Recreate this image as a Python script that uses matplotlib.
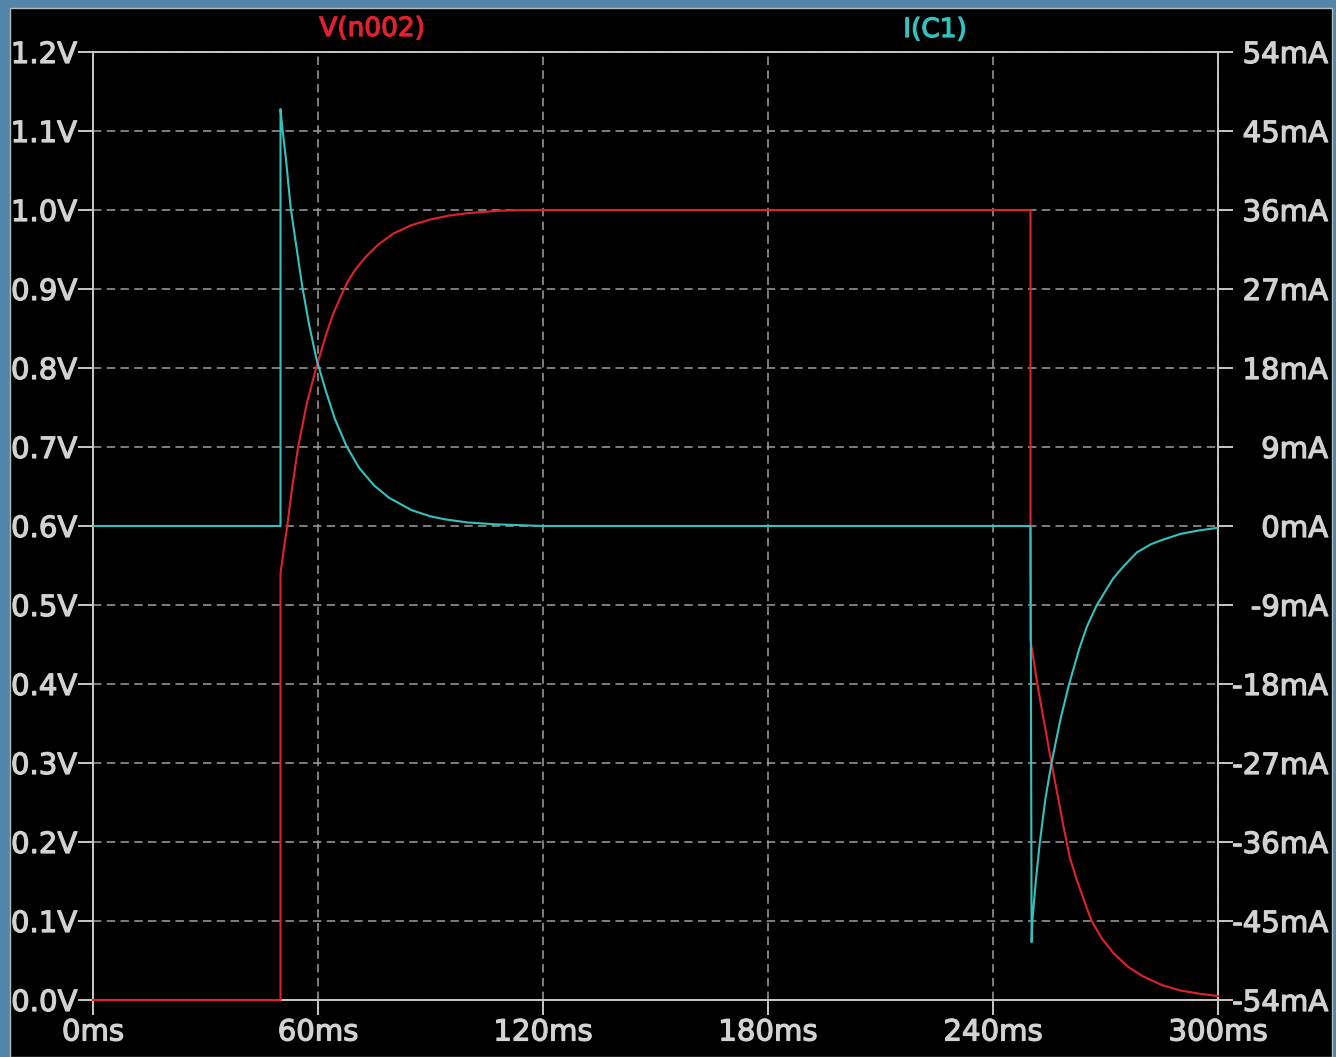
#!/usr/bin/env python3
"""Recreate the LTspice transient plot: V(n002) and I(C1) for an RC step."""

import matplotlib
matplotlib.use("Agg")
import matplotlib.pyplot as plt
import matplotlib.patheffects as pe
from matplotlib.patches import Rectangle

# ---------------------------------------------------------------------------
# Data
# ---------------------------------------------------------------------------

# V(n002) in volts vs time in ms
V_TIME = [0, 50, 50, 51, 51.8, 53, 54.7, 57, 59.5, 62, 64, 66, 68, 70, 73, 76, 80,
          85, 90, 95, 100, 108, 115, 250, 250, 251, 252, 253.5, 255.6, 257, 258.7,
          260.5, 262.5, 264.5, 266.3, 269, 272, 276, 280, 285, 290, 295, 300]
V_VOLTS = [0.0, 0.0, 0.54, 0.575, 0.60, 0.645, 0.70, 0.755, 0.80, 0.84, 0.868,
           0.89, 0.91, 0.925, 0.942, 0.956, 0.97, 0.981, 0.988, 0.993, 0.996,
           0.999, 1.0, 1.0, 0.456, 0.425, 0.395, 0.355, 0.30, 0.265, 0.222, 0.18,
           0.15, 0.123, 0.10, 0.078, 0.06, 0.042, 0.03, 0.019, 0.012, 0.008, 0.005]

# I(C1) in mA vs time in ms
I_TIME = [0, 50, 50, 50.5, 51.5, 52.7, 54, 55.8, 57.6, 59.6, 62, 64.5, 67.6, 71, 75,
          79, 85, 90, 94, 100, 107, 120, 250, 250.3, 250.5, 251.4, 252.5, 254,
          255.6, 258, 260.3, 263, 265, 267.7, 272, 275, 278.4, 282, 285, 290, 295,
          300]
I_MA = [0, 0, 47.5, 45.3, 41.6, 36.3, 32.5, 27.3, 23.0, 19.0, 15.5, 12.2, 9.1, 6.6,
        4.6, 3.2, 1.8, 1.1, 0.75, 0.4, 0.2, 0, 0, -47.4, -45, -40.5, -36, -31, -27,
        -22, -18, -14, -11.5, -9, -6, -4.5, -3.0, -2.1, -1.6, -0.9, -0.5, -0.2]

X_TICKS = [0, 60, 120, 180, 240, 300]
X_LABELS = ["0ms", "60ms", "120ms", "180ms", "240ms", "300ms"]
V_TICKS = [0.0, 0.1, 0.2, 0.3, 0.4, 0.5, 0.6, 0.7, 0.8, 0.9, 1.0, 1.1, 1.2]
V_LABELS = ["0.0V", "0.1V", "0.2V", "0.3V", "0.4V", "0.5V", "0.6V", "0.7V",
            "0.8V", "0.9V", "1.0V", "1.1V", "1.2V"]
I_TICKS = [-54, -45, -36, -27, -18, -9, 0, 9, 18, 27, 36, 45, 54]
I_LABELS = ["-54mA", "-45mA", "-36mA", "-27mA", "-18mA", "-9mA", "0mA", "9mA",
            "18mA", "27mA", "36mA", "45mA", "54mA"]

# ---------------------------------------------------------------------------
# Style
# ---------------------------------------------------------------------------

RED = "#e0222c"
CYAN = "#34c2c0"
FRAME = "#c8c8c8"
TEXT = "#d2d2d2"
GRID = "#a0a0a0"
WINDOW = "#5384aa"

W, H = 1336, 1057
FONT = 21


def _thicken(texts, color):
    # LTspice's bitmap font is heavier than DejaVu regular
    for t in texts:
        t.set_path_effects([pe.withStroke(linewidth=0.9, foreground=color)])


def main():
    plt.rcParams["font.family"] = ["DejaVu Sans"]

    fig = plt.figure(figsize=(W / 100, H / 100), dpi=100, facecolor=WINDOW)
    # black plot pane inside the window frame
    fig.patches.append(Rectangle((10 / W, 0), (1332 - 10) / W, (H - 8) / H,
                                 transform=fig.transFigure, facecolor="black",
                                 edgecolor="#b8b8b8", linewidth=1, zorder=-10))

    ax = fig.add_axes([93 / W, 57 / H, 1125 / W, 948 / H])
    ax.set_facecolor("black")

    ax.plot(V_TIME, V_VOLTS, color=RED, linewidth=1.5, zorder=3, clip_on=False)

    ax.set_xlim(0, 300)
    ax.set_ylim(0, 1.2)
    ax.set_xticks(X_TICKS)
    ax.set_xticklabels(X_LABELS)
    ax.set_yticks(V_TICKS)
    ax.set_yticklabels(V_LABELS)

    ax.grid(True, color=GRID, linestyle=(0, (5.5, 3.5)), linewidth=1.1)
    ax.set_axisbelow(True)
    for s in ax.spines.values():
        s.set_color(FRAME)
        s.set_linewidth(1.4)

    ax.tick_params(axis="y", direction="out", length=10.8, width=1.4, color=FRAME,
                   labelcolor=TEXT, labelsize=FONT, pad=0.7)
    ax.tick_params(axis="x", direction="out", length=10.8, width=1.4, color=FRAME,
                   labelcolor=TEXT, labelsize=FONT, pad=2.5)

    # right axis: capacitor current
    ax2 = ax.twinx()
    ax2.plot(I_TIME, I_MA, color=CYAN, linewidth=1.5, zorder=3)
    ax2.set_ylim(-54, 54)
    ax2.set_yticks(I_TICKS)
    ax2.set_yticklabels(I_LABELS)
    for s in ax2.spines.values():
        s.set_visible(False)
    ax2.tick_params(axis="y", direction="out", length=10.8, width=1.4, color=FRAME,
                    labelcolor=TEXT, labelsize=FONT, pad=68.4)
    for lbl in ax2.get_yticklabels():
        lbl.set_horizontalalignment("right")

    _thicken(ax.get_xticklabels() + ax.get_yticklabels() + ax2.get_yticklabels(), TEXT)

    # trace names above the plot
    t1 = fig.text(372 / W, 1 - 29 / H, "V(n002)", color=RED, fontsize=19,
                  ha="center", va="center")
    t2 = fig.text(935 / W, 1 - 30 / H, "I(C1)", color=CYAN, fontsize=19,
                  ha="center", va="center")
    _thicken([t1], RED)
    _thicken([t2], CYAN)

    fig.savefig("out.png", dpi=100, facecolor=fig.get_facecolor())
    plt.close(fig)


if __name__ == "__main__":
    main()
